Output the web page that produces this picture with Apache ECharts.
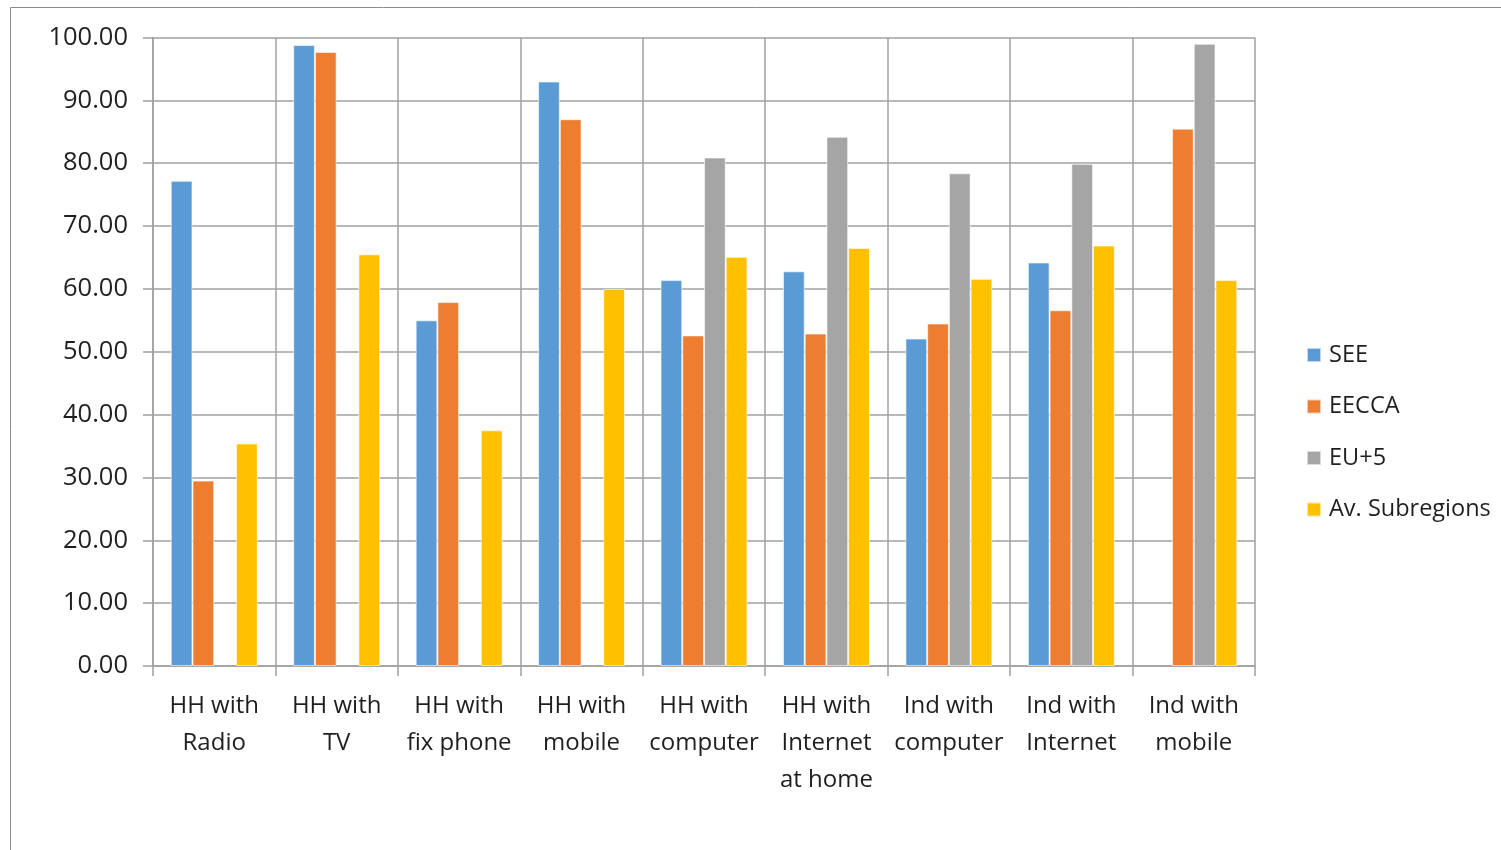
<!DOCTYPE html>
<html>
<head>
<meta charset="utf-8">
<script src="https://cdn.jsdelivr.net/npm/echarts@6/dist/echarts.min.js"></script>
<style>
  html, body { margin: 0; padding: 0; background: #fff; }
  #chart { width: 1501px; height: 850px; }
</style>
</head>
<body>
<div id="chart"></div>
<script>
const categories = [
  "HH with\nRadio", "HH with\nTV", "HH with\nfix phone", "HH with\nmobile",
  "HH with\ncomputer", "HH with\nInternet\nat home", "Ind with\ncomputer",
  "Ind with\nInternet", "Ind with\nmobile"
];
const seeValues   = [77.2, 98.8, 55.0, 93.0, 61.4, 62.8, 52.1, 64.2, null];
const eeccaValues = [29.5, 97.7, 57.9, 87.0, 52.6, 52.9, 54.5, 56.6, 85.5];
const euValues    = [null, null, null, null, 80.9, 84.2, 78.4, 79.9, 99.0];
const avgValues   = [35.4, 65.5, 37.5, 60.0, 65.1, 66.5, 61.6, 66.9, 61.4];
const seriesNames = ["SEE", "EECCA", "EU+5", "Av. Subregions"];
const colors = ["#5b9bd5", "#ed7d31", "#a5a5a5", "#ffc000"];

const chart = echarts.init(document.getElementById('chart'), null, { renderer: 'canvas' });
const fontFamily = "'Open Sans', 'Noto Sans', sans-serif";
const allValues = [seeValues, eeccaValues, euValues, avgValues];

const option = {
  animation: false,
  color: colors,
  textStyle: { fontFamily: fontFamily },
  graphic: [{
    type: 'rect',
    shape: { x: 10.5, y: 7.5, width: 1600, height: 900 },
    style: { fill: 'none', stroke: '#8c8c8c', lineWidth: 1 },
    silent: true
  }],
  grid: { left: 153, right: 246, top: 37.5, bottom: 184, containLabel: false },
  legend: {
    orient: 'vertical',
    left: 1301,
    top: 338,
    itemWidth: 14,
    itemHeight: 14,
    itemGap: 27.5,
    icon: 'rect',
    textStyle: { fontSize: 23.5, lineHeight: 24, color: '#1f1f1f', fontFamily: fontFamily, padding: [0, 0, 0, 3] },
    data: seriesNames
  },
  xAxis: {
    type: 'category',
    data: categories,
    boundaryGap: true,
    axisLine: { lineStyle: { color: '#a0a0a0', width: 1.5 } },
    axisTick: { show: true, length: 10, alignWithLabel: false, lineStyle: { color: '#a0a0a0', width: 1.5 } },
    splitLine: { show: true, lineStyle: { color: '#a0a0a0', width: 1.5 } },
    axisLabel: {
      interval: 0,
      fontSize: 24,
      color: '#1f1f1f',
      lineHeight: 37,
      margin: 22,
      fontFamily: fontFamily
    }
  },
  yAxis: {
    type: 'value',
    min: 0,
    max: 100,
    interval: 10,
    axisLine: { show: true, lineStyle: { color: '#a0a0a0', width: 1.5 } },
    axisTick: { show: true, length: 10, inside: false, lineStyle: { color: '#a0a0a0', width: 1.5 } },
    splitLine: { show: true, lineStyle: { color: '#a0a0a0', width: 1.5 } },
    axisLabel: {
      formatter: v => v.toFixed(2),
      fontSize: 25.5,
      color: '#1f1f1f',
      margin: 25,
      fontFamily: fontFamily
    }
  },
  series: seriesNames.map((name, i) => ({
    name: name,
    type: 'bar',
    data: allValues[i],
    barGap: '0%',
    barCategoryGap: '29%',
    itemStyle: { color: colors[i], borderColor: 'rgba(255,255,255,0.6)', borderWidth: 1 }
  }))
};
chart.setOption(option);
</script>
</body>
</html>
